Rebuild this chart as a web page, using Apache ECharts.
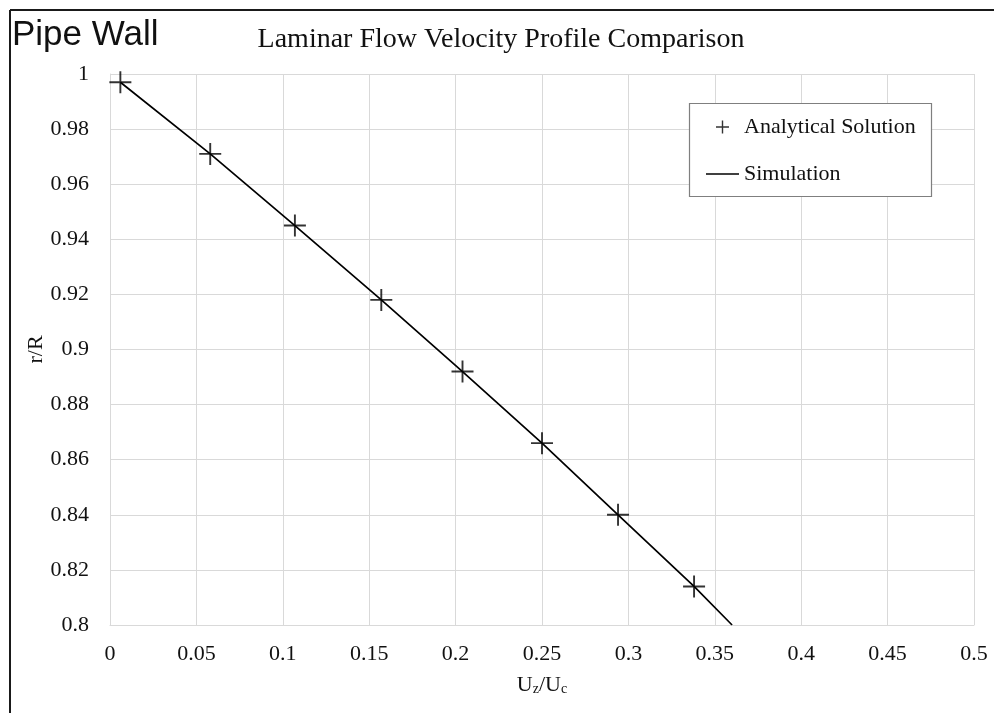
<!DOCTYPE html>
<html>
<head>
<meta charset="utf-8">
<script src="https://cdn.jsdelivr.net/npm/echarts@6/dist/echarts.min.js"></script>
<style>
  html, body { margin: 0; padding: 0; background: #fff; }
  #chart { width: 994px; height: 713px; }
</style>
</head>
<body>
<div id="chart"></div>
<script>
// Analytical profile samples: [U_z/U_c, r/R]
const analyticalX = [0.006, 0.058, 0.107, 0.157, 0.204, 0.250, 0.294, 0.338];
const analyticalY = [0.997, 0.971, 0.945, 0.918, 0.892, 0.866, 0.840, 0.814];

// Simulated profile near the wall
const simulationX = [0.006, 0.058, 0.107, 0.157, 0.204, 0.250, 0.294, 0.338, 0.360];
const simulationY = [0.997, 0.971, 0.945, 0.918, 0.892, 0.866, 0.840, 0.814, 0.800];

const xTicks = { min: 0, max: 0.5, interval: 0.05 };
const yTicks = { min: 0.8, max: 1, interval: 0.02 };

const SERIF = 'Liberation Serif';
const INK = '#111';

const plusSymbol = 'path://M0,10.05 H22 V11.95 H0 Z M10.05,0 H11.95 V22 H10.05 Z';
const plusLegendIcon = 'path://M0,0 M33,14 M10,6.3 H23 V7.7 H10 Z M15.8,0.5 H17.2 V13.5 H15.8 Z';
const lineLegendIcon = 'path://M0,0 M33,14 M0,6.25 H33 V7.75 H0 Z';

const zip = (xs, ys) => xs.map((x, i) => [x, ys[i]]);

const chart = echarts.init(document.getElementById('chart'), null, { renderer: 'canvas' });

chart.setOption({
  backgroundColor: '#fff',
  animation: false,
  title: {
    text: 'Laminar Flow Velocity Profile Comparison',
    left: 501,
    textAlign: 'center',
    top: 26,
    padding: 0,
    textStyle: { fontFamily: SERIF, fontSize: 28, fontWeight: 'normal', color: INK }
  },
  graphic: [
    { type: 'line', shape: { x1: 10, y1: 10, x2: 994, y2: 10 }, style: { stroke: '#1a1a1a', lineWidth: 2 } },
    { type: 'line', shape: { x1: 10, y1: 10, x2: 10, y2: 713 }, style: { stroke: '#1a1a1a', lineWidth: 2 } },
    {
      type: 'text', left: 12, top: 18,
      style: { text: 'Pipe Wall', font: '35px "Liberation Sans"', fill: INK }
    },
    {
      type: 'rect', z: 5,
      shape: { x: 689.5, y: 103.5, width: 242, height: 93 },
      style: { fill: '#fff', stroke: '#7f7f7f', lineWidth: 1.2 }
    }
  ],
  legend: {
    orient: 'vertical',
    left: 706,
    top: 116,
    padding: 0,
    itemWidth: 33,
    itemHeight: 14,
    itemGap: 25,
    z: 10,
    textStyle: { fontFamily: SERIF, fontSize: 22, color: INK },
    data: [
      { name: 'Analytical Solution', icon: plusLegendIcon, itemStyle: { color: '#000' } },
      { name: 'Simulation', icon: lineLegendIcon, itemStyle: { color: '#000' } }
    ]
  },
  grid: { left: 110, right: 20, top: 74, bottom: 88, containLabel: false },
  xAxis: {
    type: 'value',
    min: xTicks.min, max: xTicks.max, interval: xTicks.interval,
    name: '{u|U}{s|z}{u|/U}{s|c}',
    nameLocation: 'middle',
    nameGap: 49,
    nameTextStyle: {
      rich: {
        u: { fontFamily: SERIF, fontSize: 22, color: INK },
        s: { fontFamily: SERIF, fontSize: 14, color: INK, verticalAlign: 'bottom', padding: [8, 0, 0, 0] }
      }
    },
    axisLine: { show: true, lineStyle: { color: '#d9d9d9', width: 1 } },
    axisTick: { show: false },
    axisLabel: { margin: 18, fontFamily: SERIF, fontSize: 22, color: INK },
    splitLine: { show: true, lineStyle: { color: '#d9d9d9', width: 1 } }
  },
  yAxis: {
    type: 'value',
    min: yTicks.min, max: yTicks.max, interval: yTicks.interval,
    name: 'r/R',
    nameLocation: 'middle',
    nameGap: 63,
    nameMoveOverlap: false,
    nameTextStyle: { fontFamily: SERIF, fontSize: 22, color: INK },
    axisLine: { show: true, lineStyle: { color: '#d9d9d9', width: 1 } },
    axisTick: { show: false },
    axisLabel: { margin: 21, fontFamily: SERIF, fontSize: 22, color: INK },
    splitLine: { show: true, lineStyle: { color: '#d9d9d9', width: 1 } }
  },
  series: [
    {
      name: 'Analytical Solution',
      type: 'scatter',
      data: zip(analyticalX, analyticalY),
      symbol: plusSymbol,
      symbolSize: 22,
      itemStyle: { color: '#000' },
      z: 4
    },
    {
      name: 'Simulation',
      type: 'line',
      data: zip(simulationX, simulationY),
      symbol: 'none',
      clip: true,
      lineStyle: { color: '#000', width: 1.7 },
      itemStyle: { color: '#000' },
      z: 3
    }
  ]
});
</script>
</body>
</html>
